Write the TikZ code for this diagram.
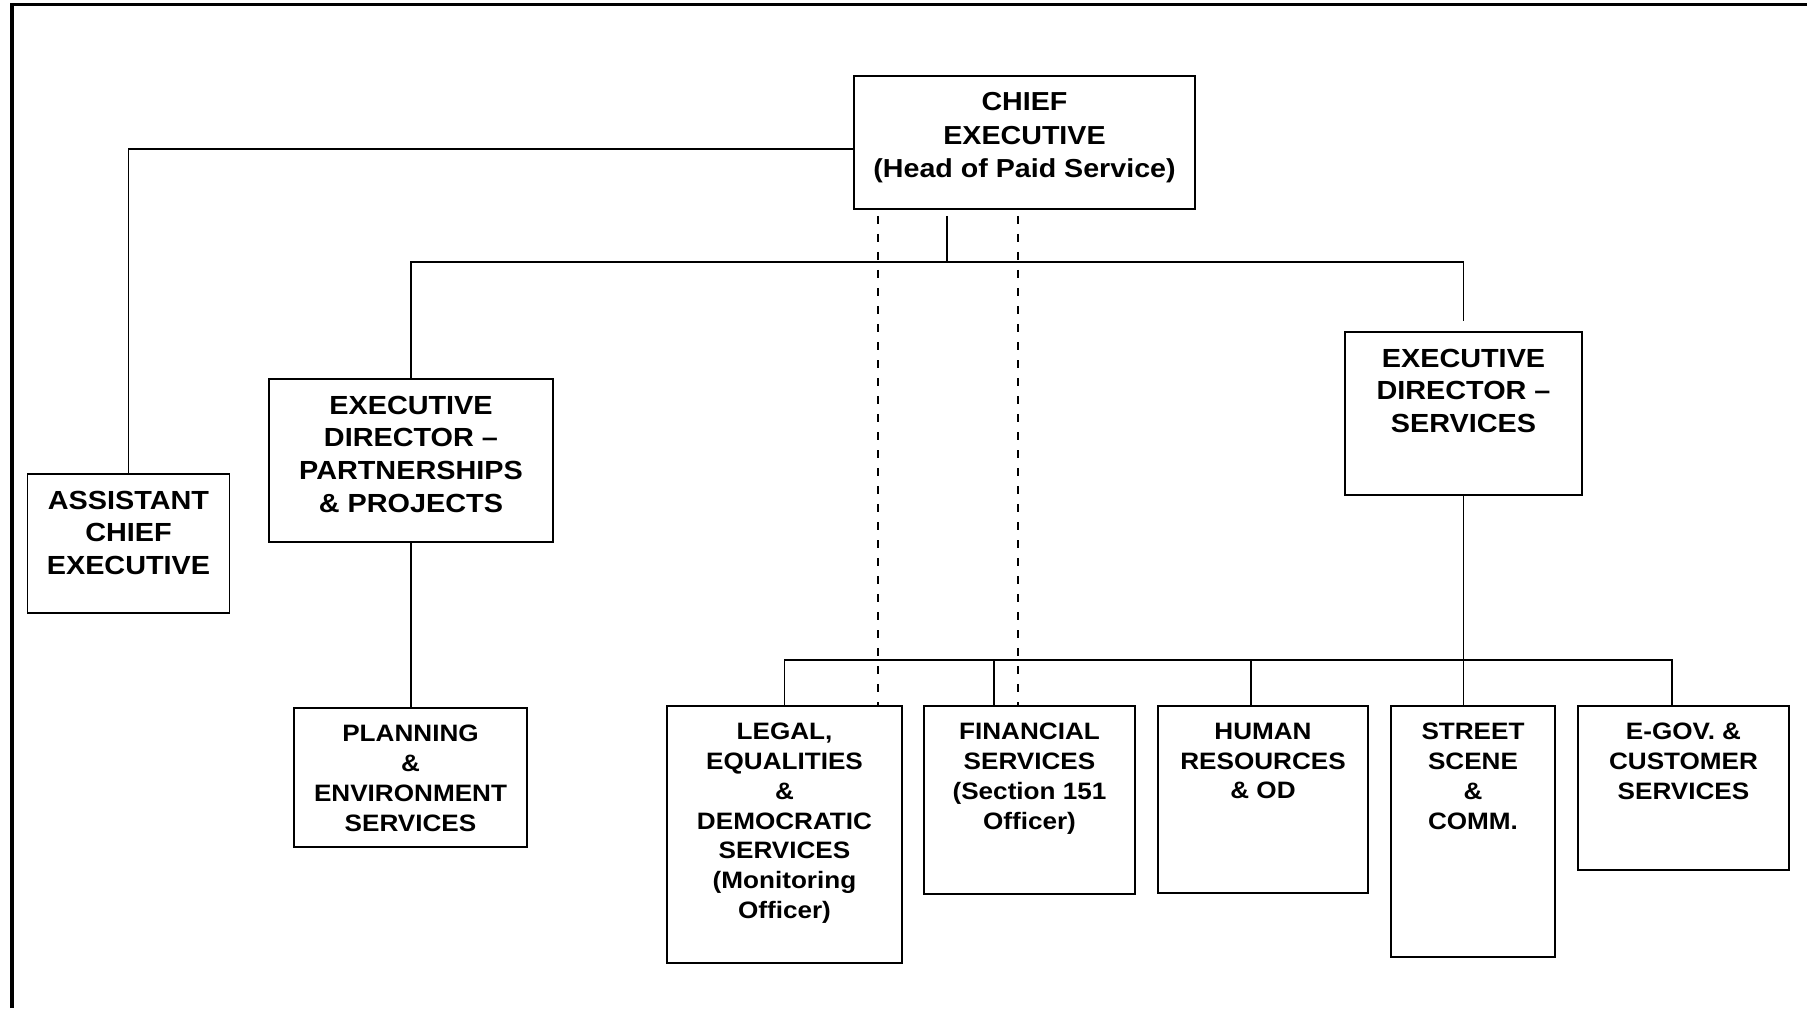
\documentclass[tikz,border=0pt]{standalone}
\usepackage{fontspec}
\setmainfont{Liberation Sans}[FakeStretch=1.1]
\usetikzlibrary{positioning}

\newcommand\chieffont{\fontsize{7.4}{9.4}\selectfont}
\newcommand\upperfont{\fontsize{7.45}{9.3}\selectfont}
\newcommand\lowerfont{\fontsize{6.75}{8.5}\selectfont}

\tikzset{
  post/.style={draw, line width=0.18mm, inner sep=0pt},
  posttext/.style={anchor=north, align=center, inner sep=0pt, yshift=-1.7mm, font=\bfseries#1},
  link/.style={line width=0.16mm},
  dotline/.style={line width=0.14mm, dash pattern=on 0.8mm off 1mm},
  frame/.style={line width=0.3mm}
}

\begin{document}
\begin{tikzpicture}[x=0.01cm,y=-0.01cm]
  \useasboundingbox (0,0) rectangle (1807,1008);
  \draw[frame] (12,1008) -- (12,4) -- (1807,4);

  \node[post, minimum width=3.41cm, minimum height=1.33cm,
    label={[posttext=\chieffont]north:{CHIEF\\EXECUTIVE\\(Head of Paid Service)}}] (chief) at (1024.5,142.5) {};
  \node[post, minimum width=2.02cm, minimum height=1.39cm,
    label={[posttext=\upperfont]north:{ASSISTANT\\CHIEF\\EXECUTIVE}}] (ace) at (128.5,543.5) {};
  \node[post, minimum width=2.84cm, minimum height=1.63cm,
    label={[posttext=\upperfont]north:{EXECUTIVE\\DIRECTOR –\\PARTNERSHIPS\\\& PROJECTS}}] (edpp) at (411,460.5) {};
  \node[post, minimum width=2.37cm, minimum height=1.63cm,
    label={[posttext=\upperfont]north:{EXECUTIVE\\DIRECTOR –\\SERVICES}}] (eds) at (1463.5,413.5) {};
  \node[post, minimum width=2.33cm, minimum height=1.39cm,
    label={[posttext=\lowerfont]north:{PLANNING\\\&\\ENVIRONMENT\\SERVICES}}] (plan) at (410.5,777.5) {};
  \node[post, minimum width=2.35cm, minimum height=2.57cm,
    label={[posttext=\lowerfont]north:{LEGAL,\\EQUALITIES\\\&\\DEMOCRATIC\\SERVICES\\(Monitoring\\Officer)}}] (legal) at (784.5,834.5) {};
  \node[post, minimum width=2.11cm, minimum height=1.88cm,
    label={[posttext=\lowerfont]north:{FINANCIAL\\SERVICES\\(Section 151\\Officer)}}] (fin) at (1029.5,800) {};
  \node[post, minimum width=2.10cm, minimum height=1.87cm,
    label={[posttext=\lowerfont]north:{HUMAN\\RESOURCES\\\& OD}}] (hr) at (1263,799.5) {};
  \node[post, minimum width=1.64cm, minimum height=2.51cm,
    label={[posttext=\lowerfont]north:{STREET\\SCENE\\\&\\COMM.}}] (street) at (1473,831.5) {};
  \node[post, minimum width=2.11cm, minimum height=1.64cm,
    label={[posttext=\lowerfont]north:{E-GOV. \&\\CUSTOMER\\SERVICES}}] (egov) at (1683.5,788) {};

  \coordinate (cebase) at ([yshift=-0.6mm]chief.south);
  \coordinate (topbar) at (947,262);
  \coordinate (lowbar) at (1463.5,660);
  \coordinate (finstub) at ([xshift=-3.55mm]fin.north);
  \coordinate (hrstub) at ([xshift=-1.2mm]hr.north);
  \coordinate (legalcut) at (878,706);
  \coordinate (fincut) at (1018,706);

  \draw[link] ([yshift=-0.65mm]chief.west) -| (ace.north);
  \draw[link] (cebase -| topbar) -- (topbar);
  \draw[link] (edpp.north) |- (topbar) -| ([yshift=1mm]eds.north);
  \draw[link] (edpp.south) -- (edpp.south |- plan.north);
  \draw[link] (eds.south) -- (eds.south |- street.north);
  \draw[link] (legal.north) |- (lowbar) -| ([xshift=-1.15mm]egov.north);
  \draw[link] (finstub) -- (finstub |- lowbar);
  \draw[link] (hrstub) -- (hrstub |- lowbar);
  \draw[dotline] (cebase -| legalcut) -- (legalcut);
  \draw[dotline] (cebase -| fincut) -- (fincut);
\end{tikzpicture}
\end{document}
